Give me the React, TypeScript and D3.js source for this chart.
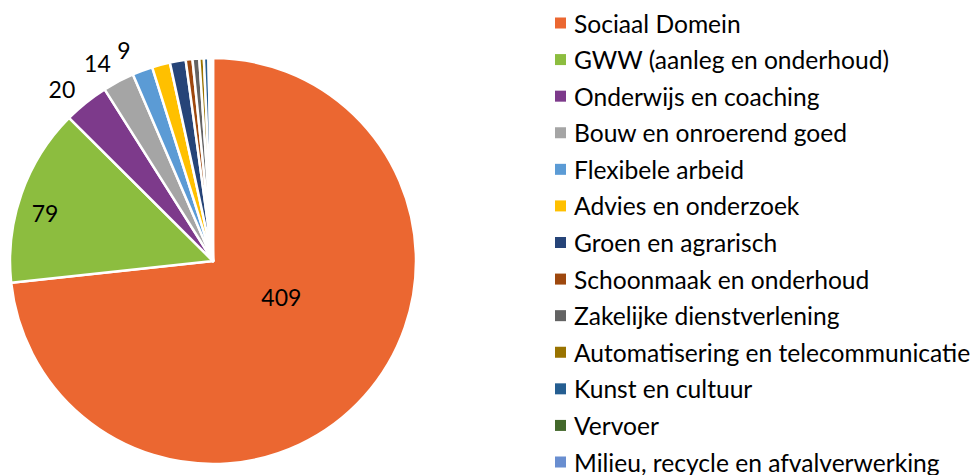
import React, { useEffect, useRef } from "react";
import * as d3 from "d3";

// sectoren en aantallen
const categories = [
  "Sociaal Domein",
  "GWW (aanleg en onderhoud)",
  "Onderwijs en coaching",
  "Bouw en onroerend goed",
  "Flexibele arbeid",
  "Advies en onderzoek",
  "Groen en agrarisch",
  "Schoonmaak en onderhoud",
  "Zakelijke dienstverlening",
  "Automatisering en telecommunicatie",
  "Kunst en cultuur",
  "Vervoer",
  "Milieu, recycle en afvalverwerking",
];
const values = [409, 79, 20, 14, 9, 8, 7, 3, 3, 2, 2, 1, 1];
const colors = [
  "#EB6731", "#8CBD3F", "#7D3A8B", "#A5A5A5", "#5B9BD5", "#FFC000",
  "#264478", "#9E480E", "#636363", "#997300", "#255E91", "#43682B", "#698ED0",
];

const W = 980, H = 475;
const cx = 213, cy = 261, R = 203;
const FONT = "Lato, 'Open Sans', sans-serif";

export default function App() {
  const ref = useRef<SVGSVGElement>(null);

  useEffect(() => {
    document.body.style.margin = "0";
    const svg = d3.select(ref.current);
    svg.selectAll("*").remove();

    const data = categories.map((c, i) => ({ name: c, value: values[i], color: colors[i] }));
    const pie = d3.pie<any>().sort(null).value((d) => d.value);
    const arcs = pie(data);
    const arc = d3.arc<any>().innerRadius(0).outerRadius(R);

    const g = svg.append("g").attr("transform", `translate(${cx},${cy})`);
    g.selectAll("path.slice")
      .data(arcs)
      .join("path")
      .attr("class", "slice")
      .attr("d", arc)
      .attr("fill", (d) => d.data.color)
      .attr("stroke", "#fff")
      .attr("stroke-width", 2.5)
      .attr("stroke-linejoin", "round");

    // data labels: big slices inside, small ones just outside
    const labelPos = (d: any, i: number) => {
      const mid = (d.startAngle + d.endAngle) / 2;
      let r = R + 26, a = mid - 0.045;
      if (i === 0) { r = R * 0.38; a = mid - 0.25; }
      else if (i === 1) { r = R * 0.86; a = mid - 0.06; }
      return [Math.sin(a) * r, -Math.cos(a) * r];
    };
    g.selectAll("text.lbl")
      .data(arcs.filter((d) => d.data.value >= 9))
      .join("text")
      .attr("class", "lbl")
      .attr("x", (d, i) => labelPos(d, i)[0])
      .attr("y", (d, i) => labelPos(d, i)[1])
      .attr("text-anchor", "middle")
      .attr("dominant-baseline", "central")
      .attr("font-family", FONT)
      .attr("font-size", 23)
      .attr("fill", "#000")
      .text((d) => d.data.value);

    // legend
    const y = d3.scalePoint<string>().domain(categories).range([23, 462]);
    const leg = svg.append("g");
    const rows = leg.selectAll("g").data(data).join("g")
      .attr("transform", (d) => `translate(555,${y(d.name)})`);
    rows.append("rect")
      .attr("x", 0).attr("y", -5.5).attr("width", 11).attr("height", 11)
      .attr("fill", (d) => d.color);
    rows.append("text")
      .attr("x", 19).attr("y", 0)
      .attr("dominant-baseline", "central")
      .attr("font-family", FONT)
      .attr("font-size", 24.6)
      .attr("fill", "#000")
      .text((d) => d.name);
  }, []);

  return (
    <div style={{ position: "absolute", left: 0, top: 0 }}>
      <svg ref={ref} width={W} height={H} style={{ display: "block", background: "#fff" }} />
    </div>
  );
}
